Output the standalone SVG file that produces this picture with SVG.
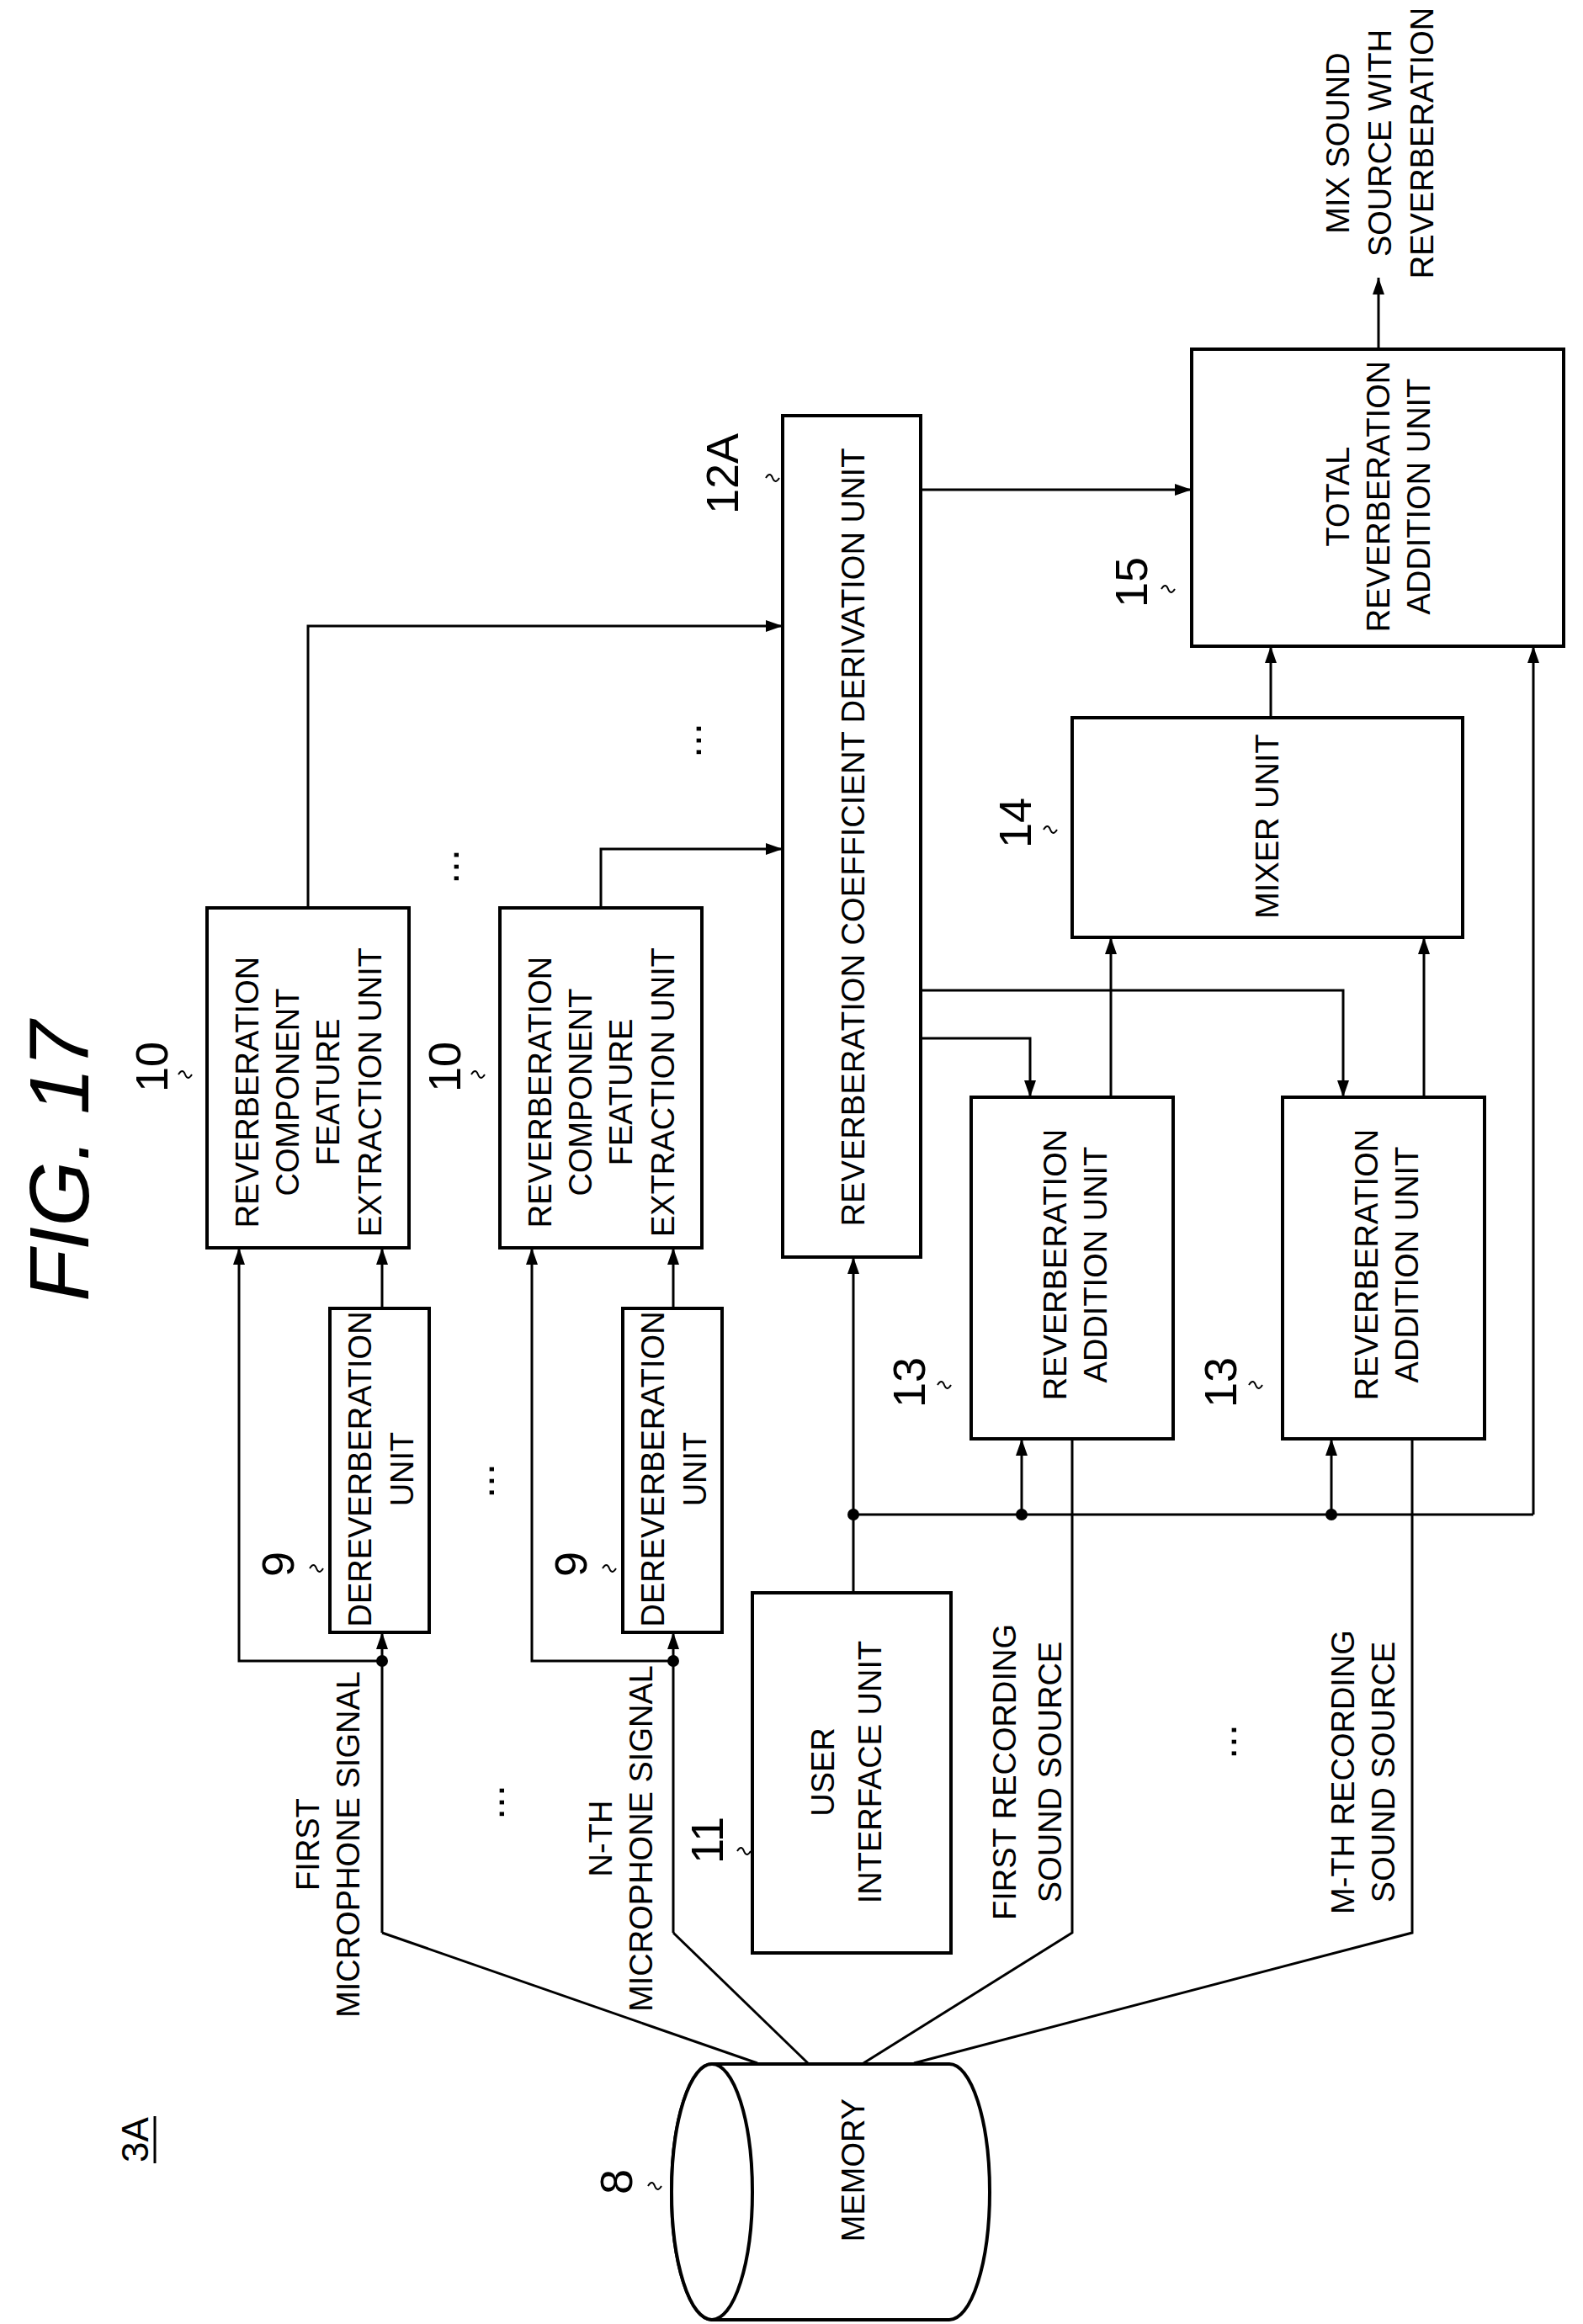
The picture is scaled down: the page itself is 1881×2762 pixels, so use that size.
<svg xmlns="http://www.w3.org/2000/svg" width="1881" height="2762" viewBox="0 0 1881 2762">
<defs>
<marker id="ah" viewBox="0 0 20 14" refX="20" refY="7" markerWidth="20" markerHeight="14" markerUnits="userSpaceOnUse" orient="auto"><path d="M0,0 L20,7 L0,14 Z" fill="#000"/></marker>
<style>
.b{fill:#fff;stroke:#000;stroke-width:4}
.l{fill:none;stroke:#000;stroke-width:3}
.a{fill:none;stroke:#000;stroke-width:3;marker-end:url(#ah)}
text{font-family:"Liberation Sans",Arial,sans-serif;font-size:38px;text-anchor:middle;dominant-baseline:central;fill:#000}
.n{font-size:54px}
.t{fill:none;stroke:#000;stroke-width:2}
</style>
</defs>
<rect width="1881" height="2762" fill="#fff"/>
<text transform="translate(70,1380) rotate(-90)" style="font-size:100px;font-style:italic">FIG. 17</text>
<g id="label3A"><text transform="translate(160,2543) rotate(-90)" style="font-size:44px">3A</text><line x1="184" y1="2515" x2="184" y2="2571" class="l"/></g>

<g id="connectors">
<path class="a" d="M366,1079 V744 H930"/>
<path class="a" d="M714,1079 V1009 H930"/>
<path class="a" d="M1094,582 H1416"/>
<path class="a" d="M1638,415 V330"/>
<path class="a" d="M1094,1177 H1596 V1304"/>
<path class="a" d="M1094,1234 H1224 V1304"/>
<path class="a" d="M1320,1304 V1114"/>
<path class="a" d="M1692,1304 V1114"/>
<path class="a" d="M1510,853 V768"/>
<path class="a" d="M1822,1800 V768"/>
<path class="l" d="M1014,1800 H1822"/>
<path class="a" d="M1014,1893 V1494"/>
<path class="a" d="M1214,1800 V1710"/>
<path class="a" d="M1582,1800 V1710"/>
<path class="a" d="M454,1555 V1483"/>
<path class="a" d="M800,1555 V1483"/>
<path class="a" d="M454,1974 H284 V1483"/>
<path class="a" d="M800,1974 H632 V1483"/>
<path class="a" d="M454,2297 V1940" style="marker-end:url(#ah)"/>
<path class="l" d="M454,2297 L900,2452"/>
<path class="a" d="M800,2297 V1940"/>
<path class="l" d="M800,2297 L960,2452"/>
<path class="l" d="M1274,1710 V2297 L1026,2452"/>
<path class="l" d="M1678,1710 V2297 L1086,2452"/>
<circle cx="454" cy="1974" r="7"/><circle cx="800" cy="1974" r="7"/>
<circle cx="1014" cy="1800" r="7"/><circle cx="1214" cy="1800" r="7"/><circle cx="1582" cy="1800" r="7"/>
</g>

<g id="n15">
<rect class="b" x="1416" y="415" width="442" height="353"/>
<text transform="translate(1590,590) rotate(-90)">TOTAL</text>
<text transform="translate(1638,590) rotate(-90)">REVERBERATION</text>
<text transform="translate(1686,590) rotate(-90)">ADDITION UNIT</text>
<text class="n" transform="translate(1344,692) rotate(-90)">15</text>
<path class="t" d="M1380,700 q5,-8 8,0 t8,0"/>
</g>
<g id="out">
<text transform="translate(1590,170) rotate(-90)">MIX SOUND</text>
<text transform="translate(1640,170) rotate(-90)">SOURCE WITH</text>
<text transform="translate(1690,170) rotate(-90)">REVERBERATION</text>
</g>
<g id="n12A">
<rect class="b" x="930" y="494" width="164" height="1000"/>
<text transform="translate(1014,995) rotate(-90)" textLength="925" lengthAdjust="spacingAndGlyphs">REVERBERATION COEFFICIENT DERIVATION UNIT</text>
<text class="n" transform="translate(858,563) rotate(-90)">12A</text>
<path class="t" d="M910,568 q5,-8 8,0 t8,0"/>
</g>
<g id="n14">
<rect class="b" x="1274" y="853" width="464" height="261"/>
<text transform="translate(1506,982) rotate(-90)">MIXER UNIT</text>
<text class="n" transform="translate(1206,978) rotate(-90)">14</text>
<path class="t" d="M1240,986 q5,-8 8,0 t8,0"/>
</g>
<g id="n10a">
<rect class="b" x="246" y="1079" width="240" height="404"/>
<text transform="translate(294,1298) rotate(-90)">REVERBERATION</text>
<text transform="translate(342,1298) rotate(-90)">COMPONENT</text>
<text transform="translate(390,1298) rotate(-90)">FEATURE</text>
<text transform="translate(440,1298) rotate(-90)">EXTRACTION UNIT</text>
<text class="n" transform="translate(180,1268) rotate(-90)">10</text>
<path class="t" d="M212,1277 q5,-8 8,0 t8,0"/>
</g>
<g id="n10b">
<rect class="b" x="594" y="1079" width="240" height="404"/>
<text transform="translate(642,1298) rotate(-90)">REVERBERATION</text>
<text transform="translate(690,1298) rotate(-90)">COMPONENT</text>
<text transform="translate(738,1298) rotate(-90)">FEATURE</text>
<text transform="translate(788,1298) rotate(-90)">EXTRACTION UNIT</text>
<text class="n" transform="translate(528,1268) rotate(-90)">10</text>
<path class="t" d="M560,1277 q5,-8 8,0 t8,0"/>
</g>
<g id="n13a">
<rect class="b" x="1154" y="1304" width="240" height="406"/>
<text transform="translate(1254,1503) rotate(-90)">REVERBERATION</text>
<text transform="translate(1302,1503) rotate(-90)">ADDITION UNIT</text>
<text class="n" transform="translate(1080,1643) rotate(-90)">13</text>
<path class="t" d="M1114,1646 q5,-8 8,0 t8,0"/>
</g>
<g id="n13b">
<rect class="b" x="1524" y="1304" width="240" height="406"/>
<text transform="translate(1624,1503) rotate(-90)">REVERBERATION</text>
<text transform="translate(1672,1503) rotate(-90)">ADDITION UNIT</text>
<text class="n" transform="translate(1450,1643) rotate(-90)">13</text>
<path class="t" d="M1484,1646 q5,-8 8,0 t8,0"/>
</g>
<g id="n9a">
<rect class="b" x="392" y="1555" width="118" height="385"/>
<text transform="translate(428,1746) rotate(-90)">DEREVERBERATION</text>
<text transform="translate(478,1746) rotate(-90)">UNIT</text>
<text class="n" transform="translate(330,1859) rotate(-90)">9</text>
<path class="t" d="M368,1864 q5,-8 8,0 t8,0"/>
</g>
<g id="n9b">
<rect class="b" x="740" y="1555" width="118" height="385"/>
<text transform="translate(776,1746) rotate(-90)">DEREVERBERATION</text>
<text transform="translate(826,1746) rotate(-90)">UNIT</text>
<text class="n" transform="translate(678,1859) rotate(-90)">9</text>
<path class="t" d="M716,1864 q5,-8 8,0 t8,0"/>
</g>
<g id="n11">
<rect class="b" x="894" y="1893" width="236" height="428"/>
<text transform="translate(978,2106) rotate(-90)">USER</text>
<text transform="translate(1034,2106) rotate(-90)">INTERFACE UNIT</text>
<text class="n" transform="translate(840,2187) rotate(-90)">11</text>
<path class="t" d="M876,2200 q5,-8 8,0 t8,0"/>
</g>
<g id="n8">
<path class="b" d="M846,2453 H1128 A48,152 0 0 1 1128,2757 H846 A48,152 0 0 1 846,2453 Z"/>
<ellipse class="b" cx="846" cy="2605" rx="48" ry="152"/>
<text transform="translate(1014,2579) rotate(-90)">MEMORY</text>
<text class="n" transform="translate(732,2593) rotate(-90)">8</text>
<path class="t" d="M770,2598 q5,-8 8,0 t8,0"/>
</g>
<g id="labels">
<text transform="translate(366,2192) rotate(-90)">FIRST</text>
<text transform="translate(414,2192) rotate(-90)">MICROPHONE SIGNAL</text>
<text transform="translate(714,2185) rotate(-90)">N-TH</text>
<text transform="translate(762,2185) rotate(-90)">MICROPHONE SIGNAL</text>
<text transform="translate(1194,2106) rotate(-90)">FIRST RECORDING</text>
<text transform="translate(1248,2106) rotate(-90)">SOUND SOURCE</text>
<text transform="translate(1596,2106) rotate(-90)">M-TH RECORDING</text>
<text transform="translate(1644,2106) rotate(-90)">SOUND SOURCE</text>
<text transform="translate(582,2142) rotate(-90)" style="font-size:50px">...</text>
<text transform="translate(570,1760) rotate(-90)" style="font-size:50px">...</text>
<text transform="translate(1452,2070) rotate(-90)" style="font-size:50px">...</text>
<text transform="translate(528,1030) rotate(-90)" style="font-size:50px">...</text>
<text transform="translate(816,880) rotate(-90)" style="font-size:50px">...</text>
</g>
</svg>
